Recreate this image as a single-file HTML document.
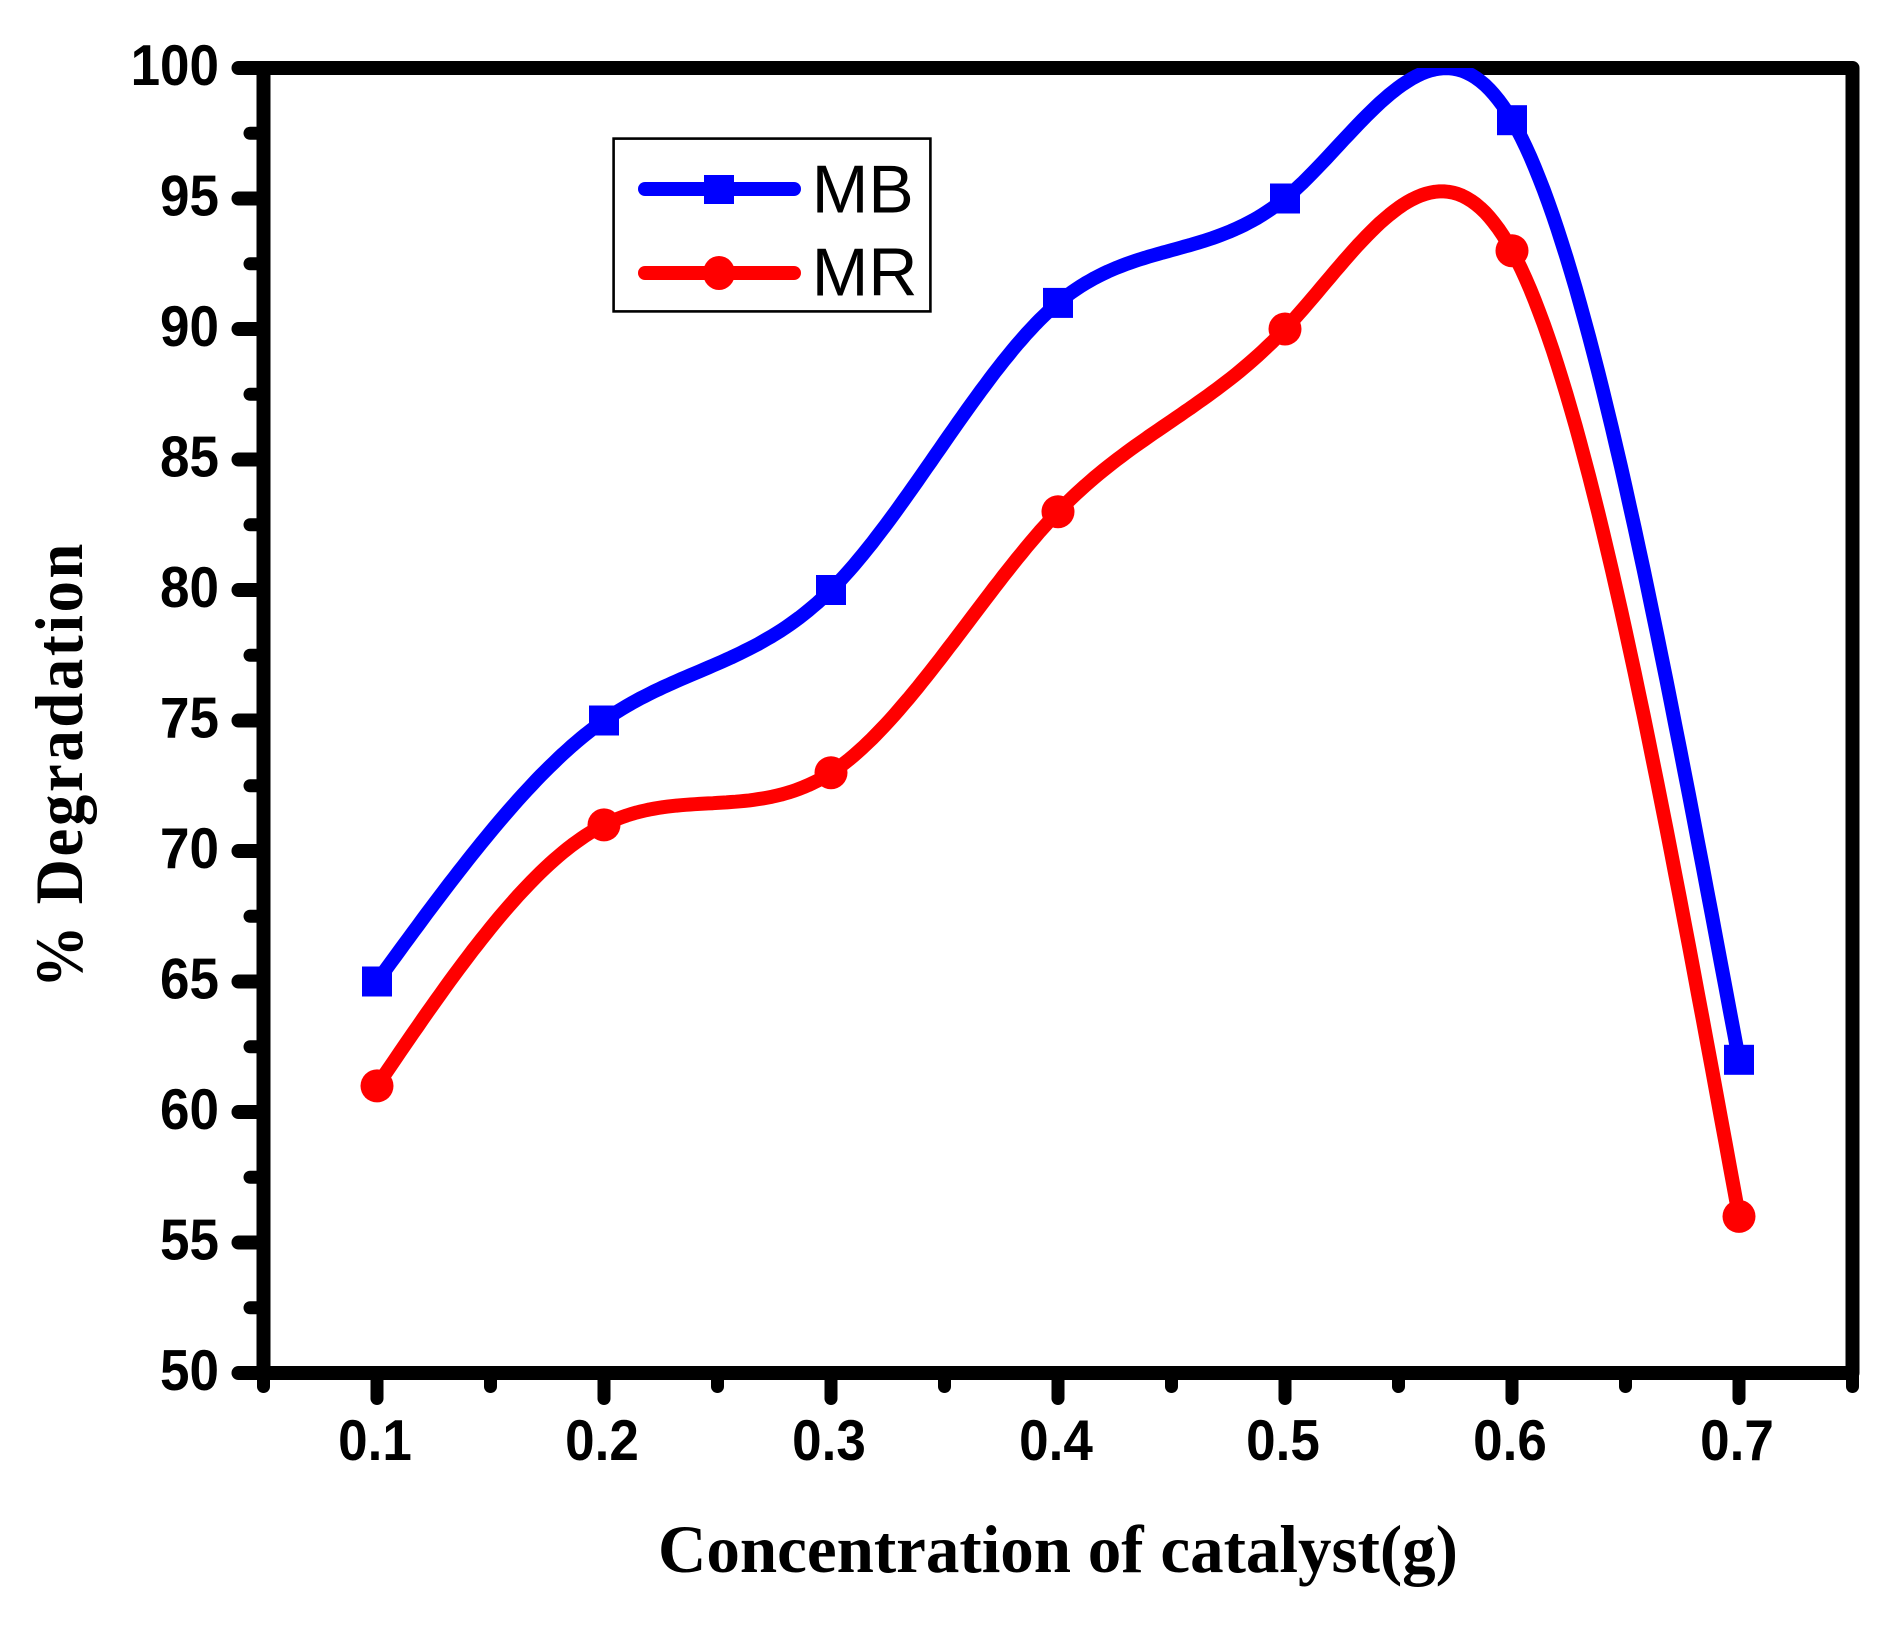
<!DOCTYPE html>
<html lang="en">
<head>
<meta charset="utf-8">
<title>% Degradation vs Concentration of catalyst</title>
<style>
html,body{margin:0;padding:0;background:#fff;width:1899px;height:1630px;overflow:hidden}
svg{display:block}
text{fill:#000}
.tick{font-family:"Liberation Sans",sans-serif;font-weight:700;font-size:53px}
.title{font-family:"Liberation Serif",serif;font-weight:700;font-size:68px}
.leg{font-family:"Liberation Sans",sans-serif;font-size:68px}
</style>
</head>
<body>
<svg id="chart" xmlns="http://www.w3.org/2000/svg" width="1899" height="1630" viewBox="0 0 1899 1630">
  <defs><clipPath id="plot-clip"><rect x="263" y="68" width="1590" height="1305"/></clipPath></defs>
  <g id="ticks"></g>
  <rect x="263.5" y="68" width="1589" height="1305" fill="none" stroke="#000" stroke-width="14" stroke-linejoin="round"/>
  <g id="series" clip-path="url(#plot-clip)"></g>
  <g id="markers"></g>
  <g id="labels"></g>

  <text class="title" x="658" y="1572" textLength="800" lengthAdjust="spacingAndGlyphs">Concentration of catalyst(g)</text>
  <text class="title" transform="translate(82,988) rotate(-90) scale(0.92,1)" x="0" y="0" textLength="483" lengthAdjust="spacing">% Degradation</text>

  <g>
    <rect x="613.6" y="138.6" width="316.8" height="172.8" fill="#fff" stroke="#000" stroke-width="2.6"/>
    <line x1="645" y1="189" x2="794" y2="189" stroke="#0000ff" stroke-width="14" stroke-linecap="round"/>
    <rect x="704" y="175" width="30" height="29" fill="#0000ff"/>
    <text class="leg" x="811.7" y="212.7">MB</text>
    <line x1="645" y1="273" x2="794" y2="273" stroke="#ff0000" stroke-width="14" stroke-linecap="round"/>
    <ellipse cx="719" cy="273" rx="16" ry="17" fill="#ff0000"/>
    <text class="leg" x="811.7" y="295.7">MR</text>
  </g>
</svg>
<script>
var categories = [0.1, 0.2, 0.3, 0.4, 0.5, 0.6, 0.7];
var seriesMB = [65, 75, 80, 91, 95, 98, 62];
var seriesMR = [61, 71, 73, 83, 90, 93, 56];
var yTickLabels = ["50", "55", "60", "65", "70", "75", "80", "85", "90", "95", "100"];
var xTickLabels = ["0.1", "0.2", "0.3", "0.4", "0.5", "0.6", "0.7"];

var NS = 'http://www.w3.org/2000/svg';
var X_MIN = 0.05, X_MAX = 0.75, Y_MIN = 50, Y_MAX = 100;
function xScale(v) { return 263.5 + (v - X_MIN) / (X_MAX - X_MIN) * 1589; }
function yScale(v) { return 1373 - (v - Y_MIN) / (Y_MAX - Y_MIN) * 1305; }
function make(tag) { return document.createElementNS(NS, tag); }

function spline(xs, ys) {
  var n = xs.length, h = [], a = [], l = [1], mu = [0], z = [0], c = [], b = [], d = [], i;
  for (i = 0; i < n - 1; i++) h[i] = xs[i + 1] - xs[i];
  for (i = 1; i < n - 1; i++) {
    a[i] = 3 / h[i] * (ys[i + 1] - ys[i]) - 3 / h[i - 1] * (ys[i] - ys[i - 1]);
    l[i] = 2 * (xs[i + 1] - xs[i - 1]) - h[i - 1] * mu[i - 1];
    mu[i] = h[i] / l[i];
    z[i] = (a[i] - h[i - 1] * z[i - 1]) / l[i];
  }
  c[n - 1] = 0;
  for (i = n - 2; i >= 0; i--) {
    c[i] = (i === 0 ? 0 : z[i]) - (i === 0 ? 0 : mu[i]) * c[i + 1];
    b[i] = (ys[i + 1] - ys[i]) / h[i] - h[i] * (c[i + 1] + 2 * c[i]) / 3;
    d[i] = (c[i + 1] - c[i]) / (3 * h[i]);
  }
  return function (x) {
    var k = Math.min(n - 2, Math.max(0, Math.floor((x - xs[0]) / h[0])));
    var t = x - xs[k];
    return ys[k] + t * (b[k] + t * (c[k] + t * d[k]));
  };
}

function curvePath(values) {
  var f = spline(categories, values), pts = [], first = categories[0], last = categories[categories.length - 1];
  for (var i = 0; i <= 300; i++) {
    var x = first + (last - first) * i / 300;
    pts.push(xScale(x).toFixed(1) + ',' + yScale(f(x)).toFixed(1));
  }
  return 'M' + pts.join('L');
}

var ticksG = document.getElementById('ticks');
var labelsG = document.getElementById('labels');
var seriesG = document.getElementById('series');
var markersG = document.getElementById('markers');

function tickLine(x1, y1, x2, y2, w) {
  var t = make('line');
  t.setAttribute('x1', x1); t.setAttribute('y1', y1);
  t.setAttribute('x2', x2); t.setAttribute('y2', y2);
  t.setAttribute('stroke', '#000');
  t.setAttribute('stroke-width', w);
  t.setAttribute('stroke-linecap', 'round');
  
  
  ticksG.appendChild(t);
}

yTickLabels.forEach(function (lab, i) {
  var val = parseFloat(lab), y = yScale(val);
  tickLine(263, y, 238.5, y, 14);
  if (val < Y_MAX) tickLine(263, yScale(val + 2.5), 250, yScale(val + 2.5), 13);
  var t = make('text');
  t.setAttribute('class', 'tick');
  t.setAttribute('text-anchor', 'end');
  t.setAttribute('transform', 'translate(219,' + (y + 17) + ') scale(1,1.08)');
  t.textContent = lab;
  
  
  labelsG.appendChild(t);
});

xTickLabels.forEach(function (lab) {
  var val = parseFloat(lab), x = xScale(val);
  tickLine(x, 1373, x, 1398.5, 13);
  tickLine(xScale(val - 0.05), 1373, xScale(val - 0.05), 1386.5, 13);
  if (lab === xTickLabels[xTickLabels.length - 1]) tickLine(xScale(val + 0.05), 1373, xScale(val + 0.05), 1386.5, 13);
  var t = make('text');
  t.setAttribute('class', 'tick');
  t.setAttribute('text-anchor', 'middle');
  t.setAttribute('transform', 'translate(' + (x - 2) + ',1460) scale(1,1.08)');
  t.textContent = lab;
  
  
  labelsG.appendChild(t);
});

function drawSeries(values, color, kind) {
  var p = make('path');
  p.setAttribute('d', curvePath(values));
  p.setAttribute('fill', 'none');
  p.setAttribute('stroke', color);
  p.setAttribute('stroke-width', 14);
  p.setAttribute('stroke-linejoin', 'round');
  
  
  seriesG.appendChild(p);
  values.forEach(function (v, i) {
    var m, cx = xScale(categories[i]), cy = yScale(v);
    if (kind === 'mb') {
      m = make('rect');
      m.setAttribute('x', cx - 15); m.setAttribute('y', cy - 15);
      m.setAttribute('width', 30); m.setAttribute('height', 30);
    } else {
      m = make('circle');
      m.setAttribute('cx', cx); m.setAttribute('cy', cy);
      m.setAttribute('r', 16.5);
    }
    m.setAttribute('fill', color);
    
    
    markersG.appendChild(m);
  });
}
drawSeries(seriesMB, '#0000ff', 'mb');
drawSeries(seriesMR, '#ff0000', 'mr');
</script>
</body>
</html>
